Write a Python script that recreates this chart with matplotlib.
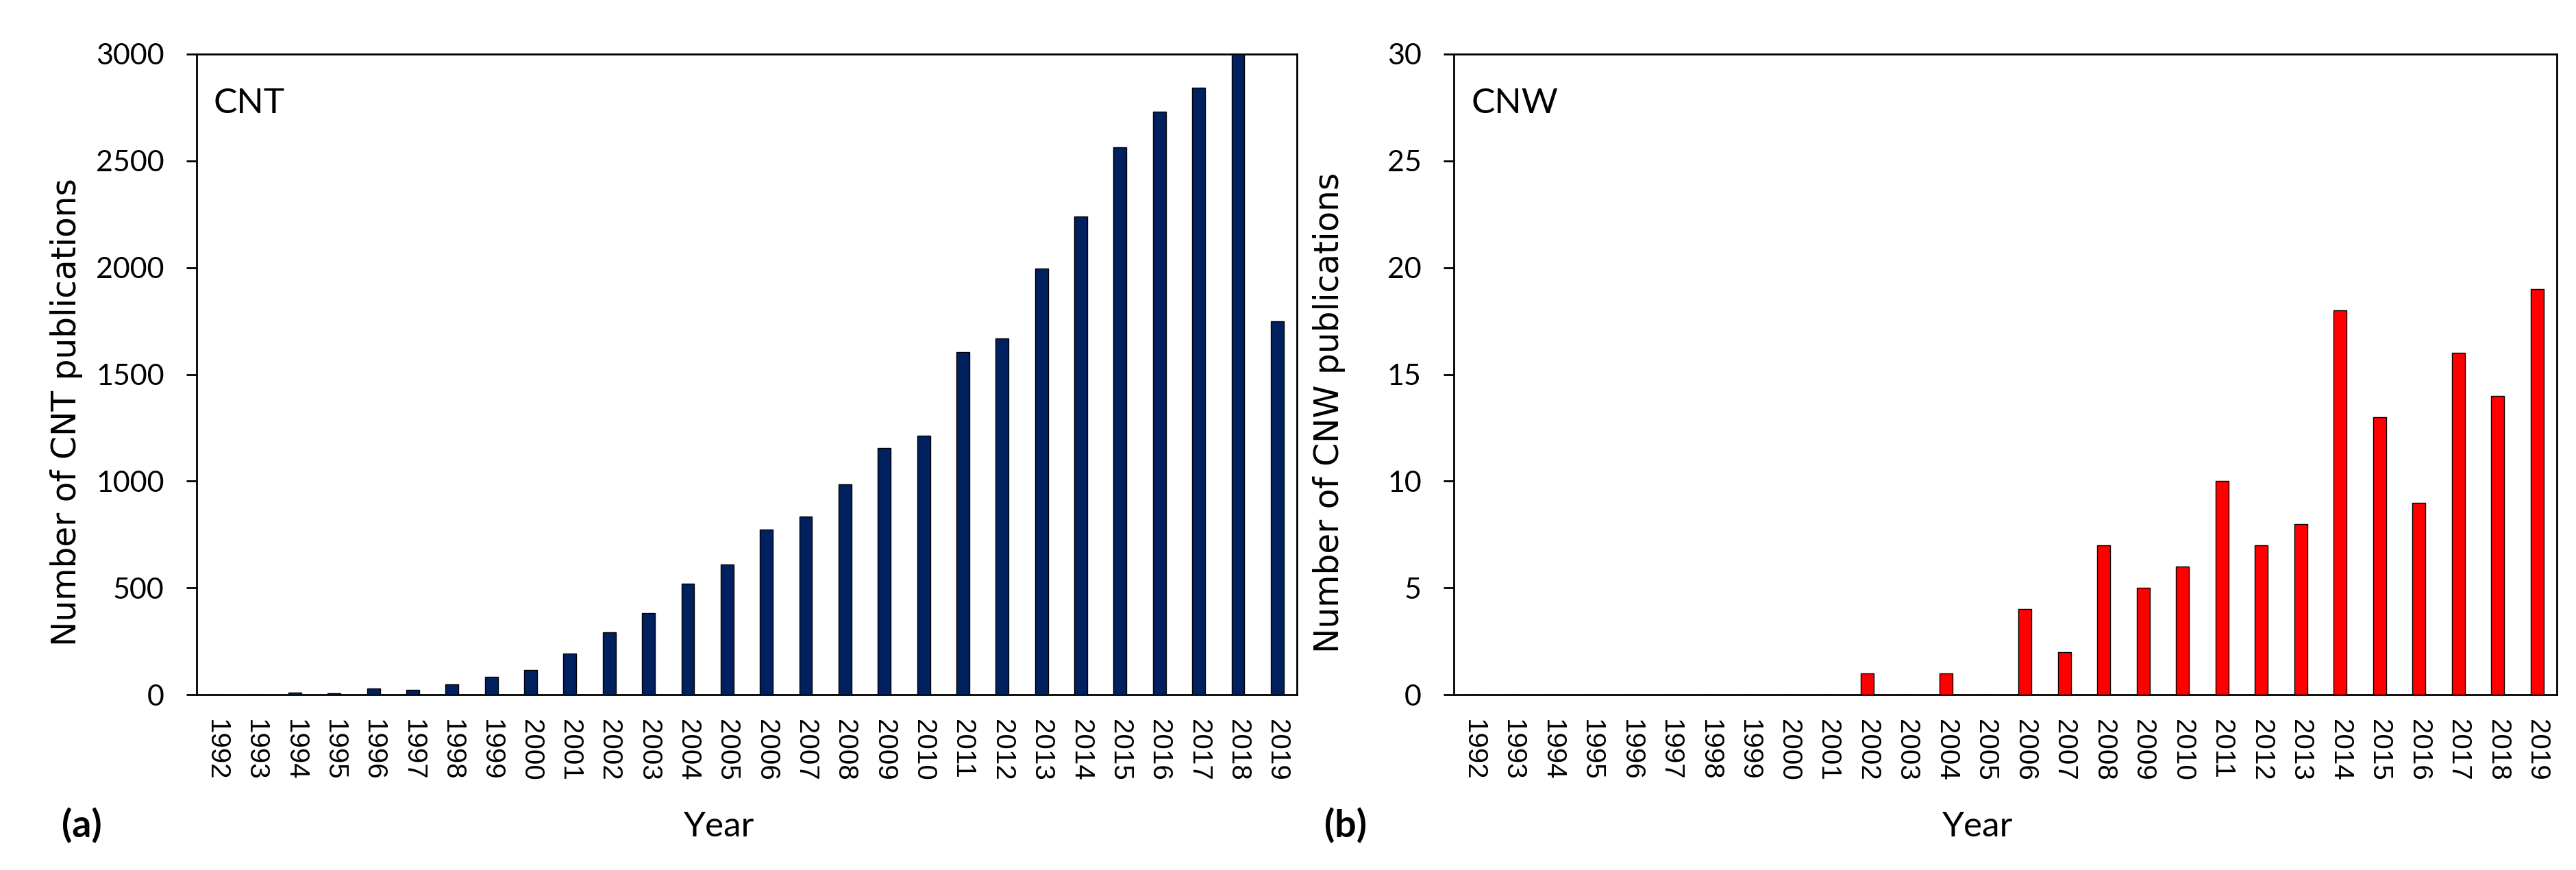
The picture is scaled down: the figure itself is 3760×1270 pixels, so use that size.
import numpy as np
import matplotlib
matplotlib.use('Agg')
import matplotlib.pyplot as plt

years = [str(y) for y in range(1992, 2020)]
cnt_counts = [0, 0, 10, 8, 28, 23, 49, 83, 117, 192, 291, 382, 519, 610,
              774, 834, 984, 1156, 1213, 1603, 1668, 1995, 2239, 2564,
              2732, 2842, 3000, 1748]
cnw_counts = [0, 0, 0, 0, 0, 0, 0, 0, 0, 0, 1, 0, 1, 0,
              4, 2, 7, 5, 6, 10, 7, 8, 18, 13, 9, 16, 14, 19]

W, H = 3760, 1270
fig = plt.figure(figsize=(W / 100, H / 100), dpi=100)

TICK_FONT = 'Lato'
CAT_FONT = 'Liberation Sans'
LABEL_FONT = 'DejaVu Sans'


def draw_panel(left_px, right_px, values, color, ymax, ystep, tag, ylabel,
               letter, letter_x, year_x, ylabel_x):
    top_px, bottom_px = 79, 1014
    ax = fig.add_axes([left_px / W, 1 - bottom_px / H,
                       (right_px - left_px) / W, (bottom_px - top_px) / H])
    idx = np.arange(len(years))
    ax.bar(idx, values, width=0.33, color=color, edgecolor='black',
           linewidth=1.0, zorder=3)
    ax.set_xlim(-0.5, len(years) - 0.5)
    ax.set_ylim(0, ymax)
    ax.set_yticks(np.arange(0, ymax + 1, ystep))
    ax.set_xticks(idx)
    ax.set_xticklabels(years, rotation=270, fontsize=29, family=CAT_FONT)
    for lab in ax.get_yticklabels():
        lab.set_fontfamily(TICK_FONT)
        lab.set_fontsize(31)
    ax.tick_params(axis='x', length=0, pad=26)
    ax.tick_params(axis='y', length=11, width=2, pad=23, direction='out')
    for sp in ax.spines.values():
        sp.set_linewidth(2)
    ax.text(25 / (right_px - left_px), 0.923, tag, transform=ax.transAxes,
            fontsize=37, family=TICK_FONT, va='center', ha='left')
    fig.text(ylabel_x / W, 1 - 602 / H, ylabel, rotation=90, fontsize=35,
             family=LABEL_FONT, ha='center', va='center')
    fig.text(year_x / W, 1 - 1207 / H, 'Year', fontsize=37,
             family=TICK_FONT, ha='center', va='center')
    fig.text(letter_x / W, 1 - 1205 / H, letter, fontsize=40,
             family=TICK_FONT, fontweight='bold', ha='center', va='center')
    return ax


draw_panel(287, 1893, cnt_counts, '#002060', 3000, 500, 'CNT',
           'Number of CNT publications', '(a)', 119, 1050, 97)
draw_panel(2122, 3732, cnw_counts, '#FF0000', 30, 5, 'CNW',
           'Number of CNW publications', '(b)', 1964, 2887, 1940)

fig.savefig('out.png', dpi=100)
